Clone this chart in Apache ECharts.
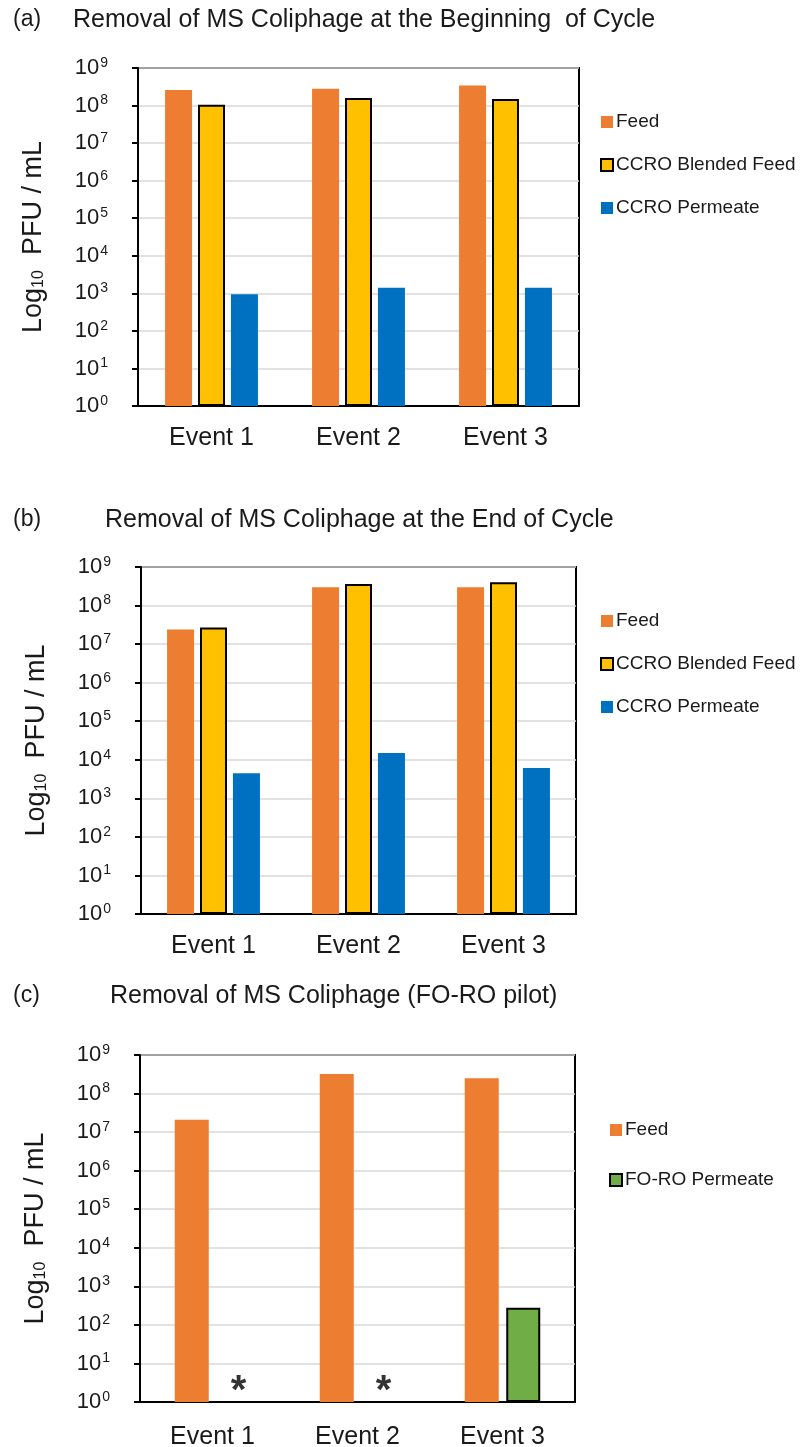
<!DOCTYPE html>
<html>
<head>
<meta charset="utf-8">
<title>Removal of MS Coliphage</title>
<script src="https://cdn.jsdelivr.net/npm/echarts@6/dist/echarts.min.js"></script>
<style>
  html, body { margin: 0; padding: 0; background: #fff; }
  #chart { width: 804px; height: 1447px; }
</style>
</head>
<body>
<div id="chart"></div>
<script>
  // categories
  var events = ['Event 1', 'Event 2', 'Event 3']

  // (a) beginning of cycle, PFU / mL
  var beginFeed = [2.6e8, 2.8e8, 3.4e8]
  var beginBlended = [1.05e8, 1.6e8, 1.5e8]
  var beginPermeate = [9.5e2, 1.4e3, 1.4e3]

  // (b) end of cycle
  var endFeed = [2.4e7, 3.0e8, 3.0e8]
  var endBlended = [2.7e7, 3.6e8, 4.0e8]
  var endPermeate = [4.5e3, 1.5e4, 6.1e3]

  // (c) FO-RO pilot, '-' = not detected (marked with *)
  var foroFeed = [2.1e7, 3.2e8, 2.5e8]
  var foroPermeate = ['-', '-', 2.8e2]
  var notDetected = [['Event 1', 3], ['Event 2', 3]]

  var titles = [
    'Removal of MS Coliphage at the Beginning  of Cycle',
    'Removal of MS Coliphage at the End of Cycle',
    'Removal of MS Coliphage (FO-RO pilot)'
  ]

  var ORANGE = '#ED7D31'
  var YELLOW = '#FFC000'
  var BLUE = '#0070C0'
  var GREEN = '#70AD47'
  var TEXT = '#1a1a1a'

  // plot rectangles (a), (b), (c)
  var grids = [
    { left: 138, top: 68, width: 441, height: 338 },
    { left: 141, top: 567, width: 435, height: 347 },
    { left: 140, top: 1055, width: 435, height: 347 }
  ]

  var chart = echarts.init(document.getElementById('chart'))

  function yAxis (i) {
    return {
      type: 'log',
      logBase: 10,
      min: 1,
      max: 1e9,
      gridIndex: i,
      name: '{n|Log}{sub|10}{n|  PFU / mL}',
      nameLocation: 'middle',
      nameRotate: 90,
      nameGap: 91,
      nameTextStyle: {
        color: TEXT,
        rich: {
          n: { fontSize: 27, color: TEXT },
          sub: { fontSize: 16, color: TEXT, verticalAlign: 'bottom', padding: [10, 0, 0, 0] }
        }
      },
      axisLine: { show: true, lineStyle: { color: '#000', width: 2 } },
      axisTick: { show: true, length: 6, lineStyle: { color: '#000', width: 2 } },
      splitLine: { show: true, lineStyle: { color: '#d9d9d9', width: 1.5 } },
      axisLabel: {
        margin: 30,
        formatter: function (v) {
          return '{b|10}{s|' + Math.round(Math.log10(v)) + '}'
        },
        rich: {
          b: { fontSize: 22, color: TEXT, lineHeight: 24 },
          s: { fontSize: 14, color: TEXT, lineHeight: 14, verticalAlign: 'top', padding: [0, 0, 0, 1] }
        }
      }
    }
  }

  function xAxis (i) {
    return {
      type: 'category',
      data: events,
      gridIndex: i,
      axisLine: { show: true, lineStyle: { color: '#000', width: 2 } },
      axisTick: { show: false },
      splitLine: { show: false },
      axisLabel: { fontSize: 25, color: TEXT, margin: i === 2 ? 23 : 20 }
    }
  }

  function bar (name, data, i, color, outlined, width) {
    var s = {
      name: name,
      type: 'bar',
      xAxisIndex: i,
      yAxisIndex: i,
      data: data,
      barWidth: width,
      barGap: '22%',
      itemStyle: { color: color }
    }
    if (outlined) {
      s.itemStyle.borderColor = '#000'
      s.itemStyle.borderWidth = 2
    }
    return s
  }

  function legend (names, left, top, gap) {
    return {
      data: names,
      orient: 'vertical',
      left: left,
      top: top,
      icon: 'rect',
      itemWidth: 12,
      itemHeight: 12,
      itemGap: gap,
      textStyle: { fontSize: 19, color: TEXT, lineHeight: 20, padding: [0, 0, 0, -2] }
    }
  }

  function title (label, text, top, left) {
    return [
      { text: label, left: 13, top: top, padding: 0,
        textStyle: { fontSize: 23, fontWeight: 'normal', color: TEXT, lineHeight: 30 } },
      { text: text, left: left, top: top, padding: 0,
        textStyle: { fontSize: 25, fontWeight: 'normal', color: TEXT, lineHeight: 30 } }
    ]
  }

  chart.setOption({
    animation: false,
    backgroundColor: '#fff',
    textStyle: { fontFamily: '"Liberation Sans", Arial, sans-serif' },
    title: [].concat(
      title('(a)', titles[0], 5, 73),
      title('(b)', titles[1], 505, 105),
      title('(c)', titles[2], 981, 110)
    ),
    grid: grids.map(function (g) {
      return Object.assign({
        show: true,
        borderColor: '#000',
        borderWidth: 2,
        containLabel: false,
        outerBoundsMode: 'none'
      }, g)
    }),
    xAxis: [xAxis(0), xAxis(1), xAxis(2)],
    yAxis: [yAxis(0), yAxis(1), yAxis(2)],
    legend: [
      legend(['Feed', 'CCRO Blended Feed', 'CCRO Permeate'], 595, 107, 23),
      legend(['Feed', 'CCRO Blended Feed', 'CCRO Permeate'], 595, 606, 23),
      legend(['Feed', 'FO-RO Permeate'], 604, 1115, 30)
    ],
    series: [
      bar('Feed', beginFeed, 0, ORANGE, false, 27),
      bar('CCRO Blended Feed', beginBlended, 0, YELLOW, true, 27),
      bar('CCRO Permeate', beginPermeate, 0, BLUE, false, 27),

      bar('Feed', endFeed, 1, ORANGE, false, 27),
      bar('CCRO Blended Feed', endBlended, 1, YELLOW, true, 27),
      bar('CCRO Permeate', endPermeate, 1, BLUE, false, 27),

      bar('Feed', foroFeed, 2, ORANGE, false, 34),
      bar('FO-RO Permeate', foroPermeate, 2, GREEN, true, 34),
      {
        name: 'not detected',
        type: 'scatter',
        xAxisIndex: 2,
        yAxisIndex: 2,
        data: notDetected,
        symbolSize: 0,
        silent: true,
        label: {
          show: true,
          formatter: '*',
          position: 'inside',
          offset: [26, 8],
          fontSize: 40,
          fontWeight: 'bold',
          color: '#000'
        }
      }
    ]
  })
</script>
</body>
</html>
